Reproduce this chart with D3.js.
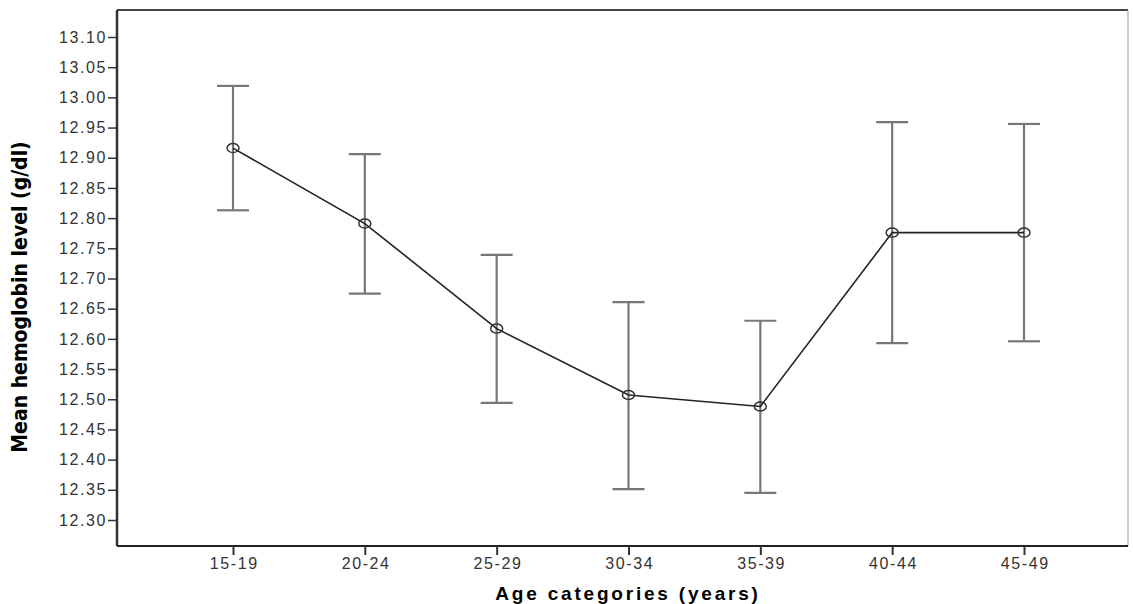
<!DOCTYPE html>
<html lang="en">
<head>
  <meta charset="UTF-8">
  <title>Mean hemoglobin level by age category</title>
  <script src="https://d3js.org/d3.v7.min.js"></script>
  <style>
    body { margin: 0; padding: 0; background: #fff; }
    svg text { font-family: 'Liberation Sans', Arial, sans-serif; }
    .tick text { fill: #333; font-size: 16px; letter-spacing: 1.6px; }
    .axis-title { font-weight: bold; fill: #000; }
  </style>
</head>
<body>
  <div id="chart"></div>
  <script>
    // values
    const ageGroups = ["15-19", "20-24", "25-29", "30-34", "35-39", "40-44", "45-49"];
    const meanHb    = [12.916, 12.791, 12.617, 12.507, 12.488, 12.776, 12.776];
    const lowerCI   = [12.813, 12.675, 12.494, 12.351, 12.345, 12.593, 12.596];
    const upperCI   = [13.019, 12.906, 12.739, 12.661, 12.630, 12.959, 12.956];
    const yTicks    = [12.30, 12.35, 12.40, 12.45, 12.50, 12.55, 12.60, 12.65, 12.70,
                       12.75, 12.80, 12.85, 12.90, 12.95, 13.00, 13.05, 13.10];

    const W = 1133, H = 604;
    const plotL = 117, plotR = 1128, plotT = 10, plotB = 546;

    const svg = d3.select("#chart").append("svg")
      .attr("width", W)
      .attr("height", H);

    const x = d3.scalePoint().domain(ageGroups).range([233, 1024]);
    const y = d3.scaleLinear().domain([12.30, 13.10]).range([520, 37]);

    const data = ageGroups.map((g, i) => ({ g: g, m: meanHb[i], lo: lowerCI[i], hi: upperCI[i] }));

    // frame (top / right)
    svg.append("path")
      .attr("d", `M${plotL},${plotT}H${plotR}`)
      .attr("stroke", "#444")
      .attr("stroke-width", 2);
    svg.append("path")
      .attr("d", `M${plotR},${plotT}V${plotB}`)
      .attr("stroke", "#999")
      .attr("stroke-width", 1);

    // y axis
    const yAxis = svg.append("g")
      .attr("transform", `translate(${plotL},0)`)
      .call(d3.axisLeft(y).tickValues(yTicks).tickFormat(d3.format(".2f")).tickSize(9).tickPadding(1));
    yAxis.select(".domain").attr("d", `M0,${plotT}V${plotB}`).attr("stroke", "#333").attr("stroke-width", 2.5);
    yAxis.selectAll(".tick line").attr("stroke", "#333").attr("stroke-width", 1.5);

    // x axis
    const xAxis = svg.append("g")
      .attr("transform", `translate(0,${plotB})`)
      .call(d3.axisBottom(x).tickSize(9).tickPadding(3));
    xAxis.select(".domain").attr("d", `M${plotL},0H${plotR}`).attr("stroke", "#222").attr("stroke-width", 2);
    xAxis.selectAll(".tick line").attr("stroke", "#333").attr("stroke-width", 2);
    xAxis.selectAll(".tick text").attr("dx", "0.8px");

    // error bars
    const bars = svg.append("g").selectAll("g").data(data).join("g")
      .attr("stroke", "#777")
      .attr("stroke-width", 2.2);
    bars.append("line")
      .attr("x1", d => x(d.g)).attr("x2", d => x(d.g))
      .attr("y1", d => y(d.hi)).attr("y2", d => y(d.lo));
    bars.append("line")
      .attr("x1", d => x(d.g) - 16).attr("x2", d => x(d.g) + 16)
      .attr("y1", d => y(d.hi)).attr("y2", d => y(d.hi));
    bars.append("line")
      .attr("x1", d => x(d.g) - 16).attr("x2", d => x(d.g) + 16)
      .attr("y1", d => y(d.lo)).attr("y2", d => y(d.lo));

    // mean line
    svg.append("path")
      .datum(data)
      .attr("fill", "none")
      .attr("stroke", "#222")
      .attr("stroke-width", 1.6)
      .attr("d", d3.line().x(d => x(d.g)).y(d => y(d.m)));

    // markers
    svg.append("g").selectAll("ellipse").data(data).join("ellipse")
      .attr("cx", d => x(d.g))
      .attr("cy", d => y(d.m))
      .attr("rx", 6)
      .attr("ry", 4.5)
      .attr("fill", "none")
      .attr("stroke", "#333")
      .attr("stroke-width", 1.5);

    // titles
    svg.append("text")
      .attr("class", "axis-title")
      .attr("x", 628)
      .attr("y", 600)
      .attr("text-anchor", "middle")
      .style("font-size", "19px")
      .style("letter-spacing", "2.8px")
      .text("Age categories (years)");

    svg.append("text")
      .attr("class", "axis-title")
      .attr("transform", "translate(27,297) rotate(-90)")
      .attr("text-anchor", "middle")
      .style("font-family", "'Liberation Sans Narrow', 'DejaVu Sans Condensed', sans-serif")
      .style("font-size", "21px")
      .text("Mean hemoglobin level (g/dl)");
  </script>
</body>
</html>
